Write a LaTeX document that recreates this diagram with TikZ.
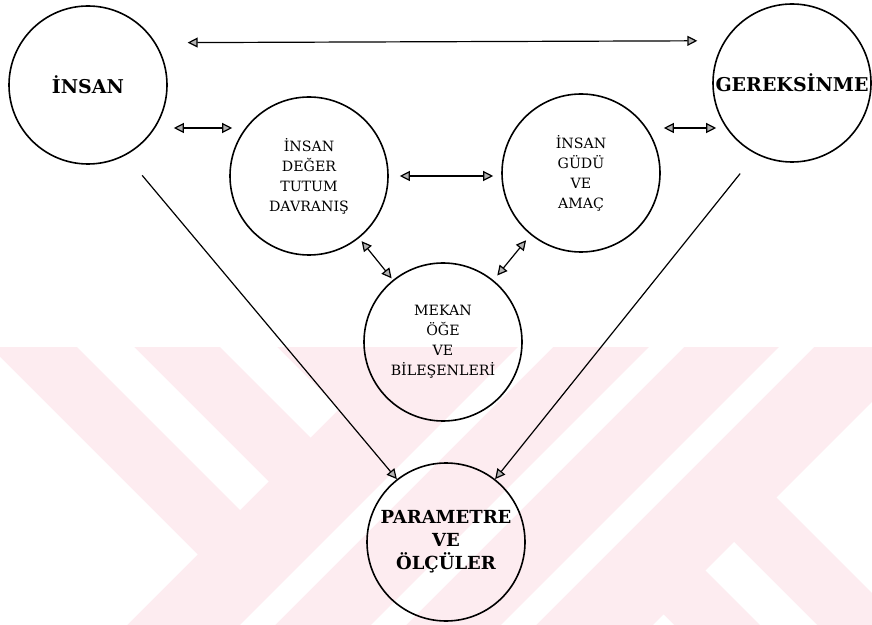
\documentclass[tikz,border=0pt]{standalone}
\usepackage{fontspec}
\setmainfont{DejaVu Serif}
\usepackage{tikz}
\usetikzlibrary{arrows.meta}
\definecolor{wmpink}{RGB}{253,236,240}

\begin{document}
\begin{tikzpicture}[x=0.5pt, y=-0.5pt,
    >={Triangle[length=5pt, width=5pt, fill=gray!60]},
    ring/.style={circle, draw, line width=0.8pt, minimum size=79pt, inner sep=0pt, align=center},
    small/.style={font=\fontsize{7.1}{10}\selectfont},
    big/.style={font=\fontsize{9.5}{11.5}\selectfont\bfseries},
    link/.style={<->, line width=0.6pt},
    oneway/.style={->, line width=0.6pt}]
        \useasboundingbox (0,0) rectangle (872,625);
        % watermark
        \fill[wmpink] (0,347) rectangle (872,625);
        \fill[white] (0,357) -- (197.5,554.5) -- (127,625) -- (0,625) -- cycle;
        \fill[white] (77,347) -- (134,347) -- (268.5,481.5) -- (240,510) -- cycle;
        \fill[white] (220,347) -- (277,347) -- (339,409) -- (310.5,437.5) -- cycle;
        \fill[white] (518,347) -- (553,347) -- (275,625) -- (240,625) -- cycle;
        \fill[white] (649,347) -- (684,347) -- (406,625) -- (371,625) -- cycle;
        \fill[white] (779,347) -- (814,347) -- (536,625) -- (501,625) -- cycle;
        \fill[white] (776.5,497.5) -- (872,402) -- (872,593) -- cycle;
        \fill[white] (734,542) -- (705.5,570.5) -- (760,625) -- (817,625) -- cycle;
        \fill[white] (663.5,614.5) -- (674,625) -- (653,625) -- cycle;

        \node[ring, big] (insan) at (88,85) {İNSAN};
        \node[ring, big] (gerek) at (792,83) {GEREKSİNME};
        \node[ring, small] (degr) at (309,176) {İNSAN\\DEĞER\\TUTUM\\DAVRANIŞ};
        \node[ring, small] (gudu) at (581,173) {İNSAN\\GÜDÜ\\VE\\AMAÇ};
        \node[ring, small] (mekan) at (443,342) {MEKAN\\ÖĞE\\VE\\BİLEŞENLERİ};
        \node[ring, big, font=\fontsize{9}{11.5}\selectfont\bfseries] (param) at (446,542) {PARAMETRE\\VE\\ÖLÇÜLER};

        \draw[link, shorten <=16pt, shorten >=13.5pt] (insan.32) -- (gerek.148);
        \draw[link] ([shift={(3pt,-21.5pt)}]insan.east) -- ([shift={(1.5pt,24pt)}]degr.west);
        \draw[link] ([shift={(1.5pt,22.5pt)}]gudu.east) -- ([shift={(2pt,-22.5pt)}]gerek.west);
        \draw[link, shorten <=5.5pt, shorten >=4pt] (degr.east) -- (degr.east -| gudu.west);
        \draw[link, shorten <=2pt, shorten >=1pt] (degr) -- (mekan);
        \draw[link, shorten <=3.5pt, shorten >=3pt] (gudu) -- (mekan);
        \draw[oneway, shorten <=13pt] (insan.-62) -- (param.128);
        \draw[oneway, shorten <=12.5pt] (gerek.-117) -- (param.52);
\end{tikzpicture}
\end{document}
